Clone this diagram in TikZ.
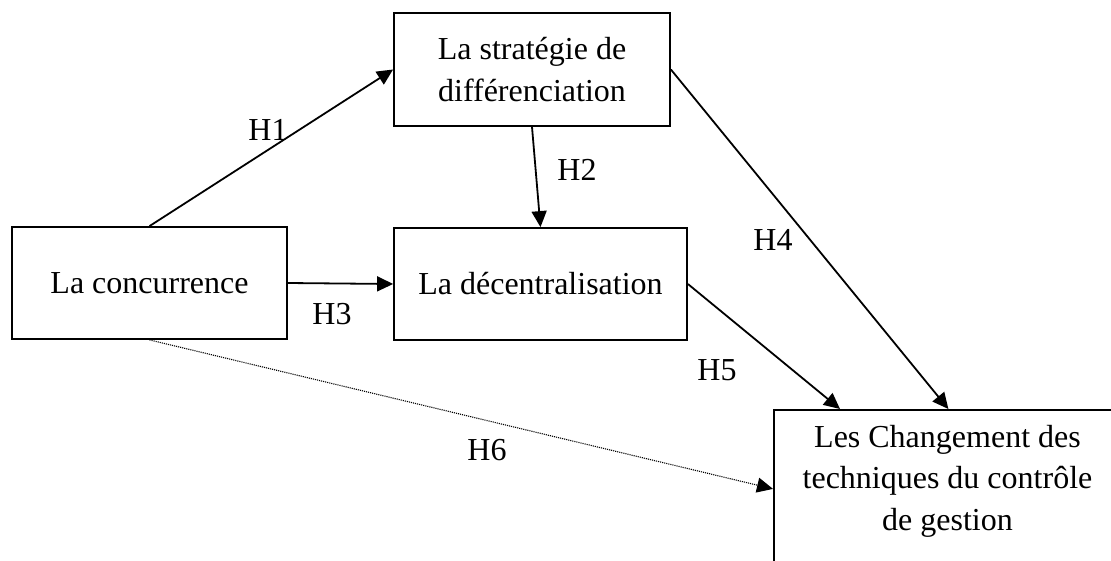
\documentclass[tikz,border=0pt]{standalone}
\usepackage{fontspec}
\setmainfont{Liberation Serif}
\usetikzlibrary{arrows.meta,calc}
\begin{document}
\begin{tikzpicture}[x=1pt,y=-1pt,
  every node/.style={font=\fontsize{32}{41.5}\selectfont},
  box/.style={draw, line width=1.8pt, inner sep=0pt, align=center},
  tip/.style={-{Triangle[length=16pt,width=15pt]}},
  link/.style={line width=1.8pt, tip},
  hyp/.style={inner sep=0pt}]
\useasboundingbox (0,0) rectangle (1111,560);
\clip (0,0) rectangle (1111,560);

% boxes
\node[box, minimum width=276pt, minimum height=113pt] (strat) at (532,69.5)
  {La stratégie de\\différenciation};
\node[box, minimum width=293pt, minimum height=112pt] (dec) at (540.5,284)
  {La décentralisation};
\node[box, minimum width=275pt, minimum height=112pt] (conc) at (149.5,283)
  {La concurrence};
\node[box, anchor=north west, minimum width=349pt, minimum height=158pt] (chg) at (773,409) {};
\node[align=center, inner sep=0pt, anchor=north] (chgtext) at (947.5,425)
  {Les Changement des\\techniques du contrôle\\de gestion};

% hypotheses
\draw[link] (conc.north) -- (strat.west);
\draw[link] (strat.south) -- (dec.north);
\draw[link] (conc.east) -- (dec.west);
\draw[link] (strat.east) -- (chg.north);
\draw[link] (dec.east) -- ($(chg.north west)+(67,0)$);
\draw[line width=1.1pt, densely dotted, tip] (conc.south) -- (chg.west);

% labels
\node[hyp] (h1) at (268,130) {H1};
\node[hyp] (h2) at (577,170) {H2};
\node[hyp] (h3) at (332,314) {H3};
\node[hyp] (h4) at (773,240) {H4};
\node[hyp] (h5) at (717,370) {H5};
\node[hyp] (h6) at (487,450) {H6};
\end{tikzpicture}
\end{document}
